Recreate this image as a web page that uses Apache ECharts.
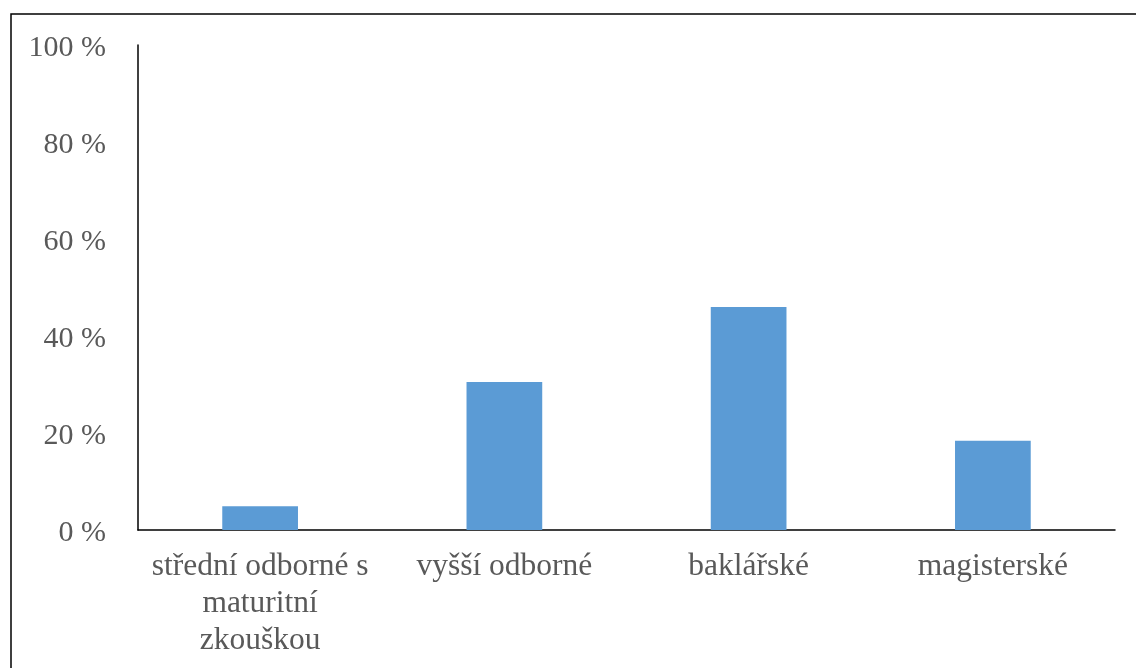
<!DOCTYPE html>
<html>
<head>
<meta charset="utf-8">
<script src="https://cdn.jsdelivr.net/npm/echarts@6/dist/echarts.min.js"></script>
<style>html,body{margin:0;padding:0;background:#fff;}#c{width:1136px;height:668px;}</style>
</head>
<body>
<div id="c"></div>
<script>
const categories = ['střední odborné s\nmaturitní\nzkouškou', 'vyšší odborné', 'baklářské', 'magisterské'];
const values = [4.9, 30.5, 46.0, 18.4];
const yTicks = [0, 20, 40, 60, 80, 100];

const chart = echarts.init(document.getElementById('c'));
chart.setOption({
  animation: false,
  backgroundColor: '#fff',
  graphic: [{
    type: 'rect', z: 100,
    shape: {x: 11, y: 14, width: 1200, height: 700},
    style: {fill: 'none', stroke: '#000', lineWidth: 1.5}
  }],
  grid: {left: 138, right: 21, top: 45, bottom: 138},
  xAxis: {
    type: 'category', data: categories,
    axisLine: {lineStyle: {color: '#000', width: 1.5}},
    axisTick: {show: false},
    axisLabel: {fontFamily: 'Liberation Serif', fontSize: 31.5, color: '#595959', margin: 18, lineHeight: 37, interval: 0}
  },
  yAxis: {
    type: 'value', min: yTicks[0], max: yTicks[yTicks.length-1], interval: 20,
    axisLine: {show: true, lineStyle: {color: '#000', width: 1.5}},
    axisTick: {show: false},
    splitLine: {show: false},
    axisLabel: {fontFamily: 'Liberation Serif', fontSize: 30, color: '#595959', margin: 32, verticalAlign: 'top', lineHeight: 6, formatter: v => v + ' %'}
  },
  series: [{
    type: 'bar', data: values, barWidth: '31%',
    itemStyle: {color: '#5B9BD5'}
  }]
});
</script>
</body>
</html>
